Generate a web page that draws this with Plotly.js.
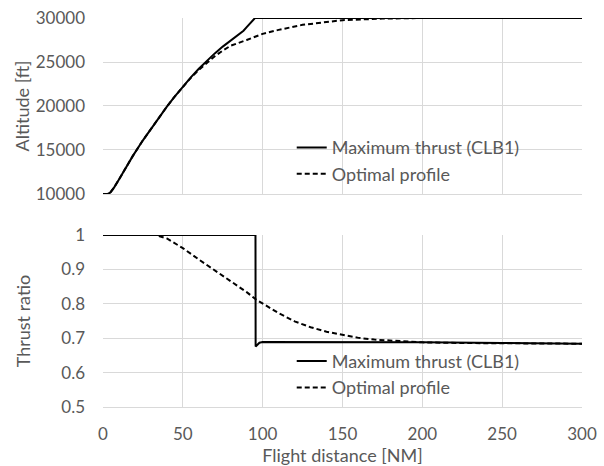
<!DOCTYPE html>
<html>
<head>
<meta charset="utf-8">
<script src="https://cdn.plot.ly/plotly-3.0.1.min.js"></script>
<style>html,body{margin:0;padding:0;background:#fff;}#chart{width:604px;height:466px;}</style>
</head>
<body>
<div id="chart"></div>
<script>
// Altitude – maximum thrust (CLB1)
const altMaxX = [0, 3, 4.5, 7, 10, 14, 18.7, 25, 30, 35, 40, 45, 50, 55, 60, 65, 70, 75, 80, 85, 88, 90, 92, 95.2, 100, 150, 200, 250, 300];
const altMaxY = [10000, 10000, 10150, 10750, 11650, 12900, 14330, 16100, 17420, 18700, 19930, 21100, 22220, 23260, 24230, 25150, 25980, 26750, 27450, 28100, 28560, 28970, 29380, 30000, 30000, 30000, 30000, 30000, 30000];
// Altitude – optimal profile
const altOptX = [0, 3, 4.5, 7, 10, 14, 18.7, 25, 30, 35, 40, 45, 50, 55, 60, 65, 70, 75, 80, 90, 100, 110, 125, 150, 175, 200, 250, 300];
const altOptY = [10000, 10000, 10150, 10750, 11650, 12900, 14330, 16100, 17420, 18700, 19930, 21100, 22200, 23200, 24100, 24900, 25650, 26300, 26850, 27500, 28200, 28650, 29220, 29750, 29930, 30000, 30000, 30000];
// Thrust ratio – maximum thrust (CLB1)
const thrMaxX = [0, 95.5, 95.6, 96.5, 98, 100, 150, 200, 250, 300];
const thrMaxY = [1, 1, 0.676, 0.680, 0.687, 0.689, 0.689, 0.688, 0.686, 0.684];
// Thrust ratio – optimal profile
const thrOptX = [0, 33, 40, 50, 60, 70, 80, 90, 96, 100, 110, 120, 130, 140, 150, 160, 170, 180, 190, 200, 225, 250, 275, 300];
const thrOptY = [1, 1, 0.99, 0.962, 0.929, 0.897, 0.867, 0.834, 0.812, 0.801, 0.773, 0.749, 0.732, 0.719, 0.709, 0.701, 0.696, 0.693, 0.690, 0.688, 0.686, 0.685, 0.684, 0.684];

const seriesNames = ['Maximum thrust (CLB1)', 'Optimal profile'];
const xTicks = [0, 50, 100, 150, 200, 250, 300];
const altTicks = [10000, 15000, 20000, 25000, 30000];
const thrTicks = [0.5, 0.6, 0.7, 0.8, 0.9, 1];

const FONT = 'Lato, "Open Sans", sans-serif';
const GRAY = '#595959';
const GRID = '#d9d9d9';

const traces = [
  {x: altMaxX, y: altMaxY, xaxis: 'x', yaxis: 'y', name: seriesNames[0], mode: 'lines', line: {color: '#000', width: 2}, legend: 'legend'},
  {x: altOptX, y: altOptY, xaxis: 'x', yaxis: 'y', name: seriesNames[1], mode: 'lines', line: {color: '#000', width: 2, dash: '5px,3px'}, legend: 'legend'},
  {x: thrMaxX, y: thrMaxY, xaxis: 'x2', yaxis: 'y2', name: seriesNames[0], mode: 'lines', line: {color: '#000', width: 2}, legend: 'legend2'},
  {x: thrOptX, y: thrOptY, xaxis: 'x2', yaxis: 'y2', name: seriesNames[1], mode: 'lines', line: {color: '#000', width: 2, dash: '5px,3px'}, legend: 'legend2'}
];

const xBase = {
  range: [0, 300], tickvals: xTicks, ticktext: xTicks.map(String), showgrid: true, gridcolor: GRID, gridwidth: 1,
  zeroline: false, showline: true, linecolor: GRID, linewidth: 1, ticks: '', fixedrange: true,
  tickfont: {family: FONT, size: 17, color: GRAY}
};
const legendBase = {
  bgcolor: 'rgba(0,0,0,0)', borderwidth: 0, xanchor: 'left', yanchor: 'top',
  font: {family: FONT, size: 18, color: GRAY}, tracegroupgap: 0, itemwidth: 30
};

const layout = {
  width: 604, height: 466,
  margin: {l: 103, r: 22, t: 18, b: 59},
  paper_bgcolor: '#fff', plot_bgcolor: '#fff',
  font: {family: FONT, size: 17, color: GRAY},
  showlegend: true,
  xaxis: Object.assign({}, xBase, {domain: [0, 1], anchor: 'y', showticklabels: false}),
  yaxis: {
    domain: [0.5476, 1], anchor: 'x', range: [10000, 30000], tickvals: altTicks, ticktext: altTicks.map(String),
    showgrid: true, gridcolor: GRID, zeroline: false, showline: false, ticks: '',
    ticklabelstandoff: 17, tickfont: {family: FONT, size: 17, color: GRAY},
    title: {text: 'Altitude [ft]', font: {family: FONT, size: 18, color: GRAY}, standoff: 1}
  },
  xaxis2: Object.assign({}, xBase, {domain: [0, 1], anchor: 'y2', ticklabelstandoff: 12,
    title: {text: 'Flight distance [NM]', font: {family: FONT, size: 18, color: GRAY}, standoff: 3}}),
  yaxis2: {
    domain: [0, 0.442], anchor: 'x2', range: [0.5, 1], tickvals: thrTicks, ticktext: thrTicks.map(String),
    showgrid: true, gridcolor: GRID, zeroline: false, showline: false, ticks: '',
    ticklabelstandoff: 17, tickfont: {family: FONT, size: 17, color: GRAY},
    title: {text: 'Thrust ratio', font: {family: FONT, size: 18, color: GRAY}, standoff: 25}
  },
  legend: Object.assign({}, legendBase, {x: 0.394, y: 0.714}),
  legend2: Object.assign({}, legendBase, {x: 0.394, y: 0.165})
};

Plotly.newPlot('chart', traces, layout, {displayModeBar: false, staticPlot: true});
</script>
</body>
</html>
